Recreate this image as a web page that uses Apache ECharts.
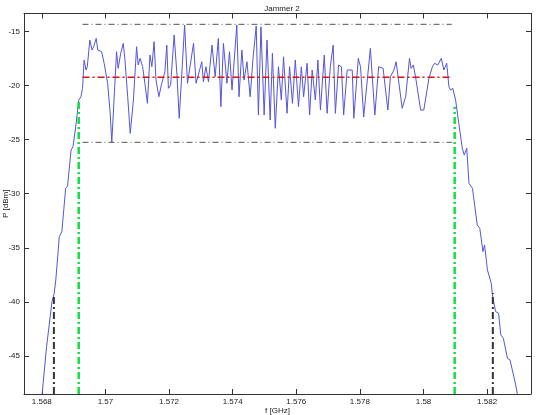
<!DOCTYPE html>
<html>
<head>
<meta charset="utf-8">
<script src="https://cdn.jsdelivr.net/npm/echarts@6/dist/echarts.min.js"></script>
<style>
  html, body { margin: 0; padding: 0; background: #fff; }
  #chart { width: 540px; height: 415px; }
</style>
</head>
<body>
<div id="chart"></div>
<script>
// spectrum
const freqGHz = [
  1.56740, 1.56801, 1.56815, 1.56821, 1.56832, 1.56839, 1.56844, 1.56855, 1.56863, 1.56875,
  1.56881, 1.56892, 1.56898, 1.56908, 1.56916, 1.56923, 1.56928, 1.56933, 1.56939, 1.56943,
  1.56951, 1.56958, 1.56963, 1.56971, 1.56976, 1.56988, 1.56996, 1.57007, 1.57015, 1.57020,
  1.57024, 1.57035, 1.57040, 1.57048, 1.57056, 1.57061, 1.57070, 1.57078, 1.57088, 1.57098,
  1.57103, 1.57109, 1.57117, 1.57124, 1.57132, 1.57140, 1.57146, 1.57153, 1.57159, 1.57168,
  1.57177, 1.57187, 1.57193, 1.57198, 1.57205, 1.57216, 1.57225, 1.57232, 1.57249, 1.57258,
  1.57277, 1.57285, 1.57303, 1.57308, 1.57316, 1.57324, 1.57335, 1.57345, 1.57355, 1.57363,
  1.57371, 1.57382, 1.57390, 1.57398, 1.57413, 1.57420, 1.57429, 1.57436, 1.57445, 1.57455,
  1.57464, 1.57474, 1.57481, 1.57489, 1.57499, 1.57508, 1.57518, 1.57525, 1.57534, 1.57544,
  1.57553, 1.57560, 1.57571, 1.57579, 1.57588, 1.57597, 1.57607, 1.57616, 1.57623, 1.57634,
  1.57642, 1.57650, 1.57660, 1.57668, 1.57676, 1.57688, 1.57697, 1.57707, 1.57716, 1.57723,
  1.57733, 1.57742, 1.57749, 1.57760, 1.57776, 1.57781, 1.57795, 1.57802, 1.57812, 1.57833,
  1.57847, 1.57859, 1.57873, 1.57888, 1.57896, 1.57907, 1.57914, 1.57933, 1.57944, 1.57956,
  1.57961, 1.57968, 1.57975, 1.57991, 1.58001, 1.58017, 1.58028, 1.58035, 1.58045, 1.58056,
  1.58064, 1.58073, 1.58080, 1.58085, 1.58092, 1.58101, 1.58111, 1.58122, 1.58128, 1.58136,
  1.58143, 1.58154, 1.58169, 1.58177, 1.58187, 1.58192, 1.58201, 1.58213, 1.58218, 1.58227,
  1.58236, 1.58243, 1.58251, 1.58255, 1.58264, 1.58272, 1.58290, 1.58295, 1.58340
];
const powerDbm = [
  -53, -48.5, -44.12, -44.18, -39.97, -39.19, -37.97, -33.97, -33.50, -29.50,
  -29.29, -25.96, -25.66, -23.50, -21.34, -21.04, -20.26, -17.65, -18.57, -18.27,
  -15.80, -16.73, -16.42, -15.65, -16.73, -16.88, -17.95, -19.80, -22.57, -25.25,
  -25.13, -16.88, -18.42, -17.03, -16.11, -17.49, -21.04, -24.42, -21.34, -16.42,
  -18.11, -17.49, -18.27, -19.80, -21.65, -17.19, -18.27, -15.96, -19.50, -21.04,
  -19.80, -18.73, -16.27, -20.26, -19.96, -15.34, -19.04, -23.03, -14.42, -19.80,
  -16.11, -19.80, -17.81, -19.65, -18.27, -19.65, -16.27, -19.19, -15.65, -21.96,
  -16.11, -19.80, -16.88, -20.42, -14.42, -21.04, -16.73, -19.50, -17.81, -21.04,
  -17.49, -14.51, -22.73, -14.58, -22.73, -15.80, -23.19, -17.03, -23.96, -18.27,
  -21.34, -17.35, -22.57, -18.27, -21.65, -17.65, -21.96, -18.27, -21.04, -17.95,
  -22.73, -18.57, -21.34, -17.65, -22.27, -17.19, -22.57, -18.27, -16.27, -22.57,
  -18.11, -18.27, -22.73, -18.57, -18.57, -23.03, -17.49, -18.27, -22.91, -16.57,
  -22.73, -18.27, -18.42, -22.27, -19.19, -18.57, -17.81, -22.11, -21.04, -17.49,
  -18.42, -18.11, -19.19, -22.27, -22.27, -19.34, -18.27, -17.95, -18.11, -17.49,
  -18.57, -17.95, -20.12, -20.42, -20.26, -21.34, -23.50, -25.80, -26.42, -25.80,
  -29.04, -29.50, -32.89, -33.19, -35.35, -34.73, -37.04, -38.27, -39.65, -40.89,
  -41.04, -43.04, -43.35, -43.20, -45.20, -45.35, -47.66, -48.49, -53
];

// reference levels (max / mean / min) over the band
const bandEdges = [1.56928, 1.58089];
const maxLevel = -14.35;
const meanLevel = -19.25;
const minLevel = -25.25;

// vertical markers: [freq, top level]
const greenMarks = [[1.56916, -21.34], [1.58098, -21.96]];
const blackMarks = [[1.56838, -39.35], [1.58218, -39.17]];

const xMin = 1.56744, xMax = 1.58338;
const yMin = -48.5, yMax = -13.35;
const xTicks = [1.568, 1.570, 1.572, 1.574, 1.576, 1.578, 1.580, 1.582];
const xTickLabels = ['1.568', '1.57', '1.572', '1.574', '1.576', '1.578', '1.58', '1.582'];
const yTicks = [-45, -40, -35, -30, -25, -20, -15];

const font = 'Liberation Sans, Arial, sans-serif';
const axisColor = '#333';

const chart = echarts.init(document.getElementById('chart'));

function hLine(level, color, width, dash) {
  return {
    type: 'line', symbol: 'none', silent: true, z: 3,
    data: bandEdges.map(f => [f, level]),
    lineStyle: { color: color, width: width, type: dash }
  };
}
function vLine(mark, color, width, dash) {
  return {
    type: 'line', symbol: 'none', silent: true, z: 4,
    data: [[mark[0], yMin], [mark[0], mark[1]]],
    lineStyle: { color: color, width: width, type: dash }
  };
}

function xAxisOpt(pos) {
  return {
    type: 'value', position: pos, min: xMin, max: xMax,
    axisLine: { show: true, onZero: false, lineStyle: { color: axisColor, width: 1 } },
    axisTick: { show: true, inside: true, length: 5, customValues: xTicks, lineStyle: { color: axisColor } },
    axisLabel: {
      show: pos === 'bottom', customValues: xTicks, margin: 4,
      fontSize: 8, fontFamily: font, color: '#222',
      formatter: v => xTickLabels[xTicks.findIndex(t => Math.abs(t - v) < 1e-7)] || ''
    },
    splitLine: { show: false },
    name: pos === 'bottom' ? 'f [GHz]' : '',
    nameLocation: 'middle', nameGap: 13, nameMoveOverlap: false,
    nameTextStyle: { fontSize: 8, fontFamily: font, color: '#222' }
  };
}
function yAxisOpt(pos) {
  return {
    type: 'value', position: pos, min: yMin, max: yMax,
    axisLine: { show: true, onZero: false, lineStyle: { color: axisColor, width: 1 } },
    axisTick: { show: true, inside: true, length: 5, customValues: yTicks, lineStyle: { color: axisColor } },
    axisLabel: {
      show: pos === 'left', customValues: yTicks, margin: 4,
      fontSize: 8, fontFamily: font, color: '#222'
    },
    splitLine: { show: false },
    name: pos === 'left' ? 'P [dBm]' : '',
    nameLocation: 'middle', nameGap: 14, nameRotate: 90, nameMoveOverlap: false,
    nameTextStyle: { fontSize: 8, fontFamily: font, color: '#222' }
  };
}

chart.setOption({
  animation: false,
  backgroundColor: '#fff',
  title: {
    text: 'Jammer 2', left: 277, top: 0, textAlign: 'center',
    textStyle: { fontSize: 8, fontWeight: 'normal', fontFamily: font, color: '#222' }
  },
  grid: { left: 24, right: 9, top: 13.5, bottom: 21, containLabel: false, outerBoundsMode: 'none' },
  xAxis: [xAxisOpt('bottom'), xAxisOpt('top')],
  yAxis: [yAxisOpt('left'), yAxisOpt('right')],
  series: [
    {
      type: 'line', symbol: 'none', silent: true, z: 2, clip: true,
      data: freqGHz.map((f, i) => [f, powerDbm[i]]),
      lineStyle: { color: '#5555d8', width: 1 }
    },
    hLine(maxLevel, '#555', 1, [6, 3, 1, 3]),
    hLine(minLevel, '#555', 1, [6, 3, 1, 3]),
    hLine(meanLevel, '#e01010', 1.5, [7, 3, 2, 3]),
    vLine(greenMarks[0], '#10e040', 2.5, [7, 3, 2, 3]),
    vLine(greenMarks[1], '#10e040', 2.5, [7, 3, 2, 3]),
    vLine(blackMarks[0], '#333', 2, [7, 3, 2, 3]),
    vLine(blackMarks[1], '#333', 2, [7, 3, 2, 3])
  ]
});
</script>
</body>
</html>
